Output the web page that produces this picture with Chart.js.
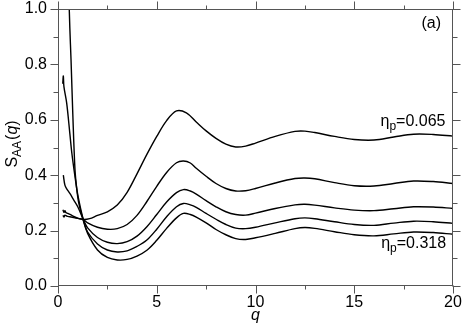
<!DOCTYPE html>
<html><head><meta charset="utf-8">
<script src="https://cdn.jsdelivr.net/npm/chart.js@4"></script>
<style>html,body{margin:0;padding:0;background:#fff}#wrap{width:463px;height:327px}</style>
</head><body><div id="wrap"><canvas id="c" width="463" height="327"></canvas></div>
<script>
// ---- data ----
const seriesLabels = ["η_p=0.065", "η_p=0.119", "η_p=0.191", "η_p=0.255", "η_p=0.318"];
const xTicks = [0, 5, 10, 15, 20];
const yTicks = [0.0, 0.2, 0.4, 0.6, 0.8, 1.0];

// shared q grid for q >= 1.5 (series B..E)
const qMain = [1.5,2,2.5,3,3.5,4,4.5,5,5.5,6,6.35,6.7,7,7.5,8,8.5,9,9.5,10,11,12,12.5,13,14,15,16,17,18,19,20];

// eta_p = 0.065 (top curve)
const qA = [0.25,0.3,0.35,0.4,0.5,0.7,1.0,1.3,1.6,2.0,2.5,3.0,3.5,4.0,4.5,5.0,5.5,6.0,6.5,7.0,7.5,8.0,8.5,9.0,9.5,10,11,12,12.5,13,14,15,16,17,18,19,20];
const sA = [0.275,0.266,0.272,0.265,0.262,0.255,0.245,0.24,0.243,0.255,0.268,0.292,0.338,0.405,0.475,0.54,0.597,0.632,0.625,0.592,0.56,0.533,0.512,0.502,0.505,0.516,0.54,0.558,0.559,0.554,0.54,0.529,0.527,0.538,0.548,0.547,0.541];

// second curve
const qB_low = [0.25,0.3,0.35,0.45,0.6,0.8,1.0,1.28];
const sB_low = [0.255,0.249,0.256,0.252,0.25,0.247,0.244,0.24];
const sB = [0.228,0.212,0.205,0.207,0.222,0.255,0.305,0.36,0.41,0.445,0.451,0.444,0.425,0.396,0.37,0.352,0.343,0.344,0.352,0.372,0.388,0.39,0.387,0.373,0.362,0.361,0.37,0.379,0.377,0.37];

// third curve
const qC_low = [0.27,0.35,0.45,0.6,0.8,1.0,1.28];
const sC_low = [0.40,0.364,0.35,0.334,0.31,0.286,0.24];
const sC = [0.21,0.175,0.158,0.153,0.16,0.18,0.214,0.258,0.303,0.337,0.348,0.343,0.332,0.308,0.286,0.268,0.258,0.256,0.263,0.28,0.293,0.295,0.292,0.282,0.274,0.272,0.279,0.286,0.285,0.28];

// fourth curve
const qD_low = [0.24,0.27,0.3,0.44,0.6,0.7,0.85,1.0,1.28];
const sD_low = [0.73,0.758,0.72,0.66,0.55,0.48,0.40,0.33,0.24];
const sD = [0.195,0.152,0.13,0.123,0.127,0.143,0.166,0.205,0.25,0.286,0.298,0.293,0.284,0.262,0.241,0.222,0.209,0.207,0.212,0.228,0.243,0.246,0.243,0.232,0.222,0.219,0.227,0.234,0.232,0.226];

// eta_p = 0.318 (bottom curve)
const qE_low = [0.55,0.6,0.66,0.75,0.86,0.95,1.05,1.28];
const sE_low = [1.05,0.93,0.816,0.62,0.42,0.35,0.30,0.237];
const sE = [0.19,0.13,0.103,0.094,0.096,0.108,0.129,0.165,0.208,0.246,0.262,0.258,0.249,0.228,0.204,0.185,0.171,0.168,0.174,0.19,0.207,0.211,0.208,0.196,0.185,0.181,0.188,0.195,0.193,0.187];

// ---- build ----
const pts = (qs, ss) => qs.map((q, i) => ({x: q, y: ss[i]}));
const seriesData = [
  pts(qA, sA),
  pts(qB_low.concat(qMain), sB_low.concat(sB)),
  pts(qC_low.concat(qMain), sC_low.concat(sC)),
  pts(qD_low.concat(qMain), sD_low.concat(sD)),
  pts(qE_low.concat(qMain), sE_low.concat(sE))
];

const FONT = "'Liberation Sans', Arial, Helvetica, sans-serif";
const AXC = '#555';
const FS = 16, FSUB = 12;

const decor = {
  id: 'decor',
  afterDraw(chart) {
    const ctx = chart.ctx, a = chart.chartArea;
    const xs = chart.scales.x, ys = chart.scales.y;
    const L = Math.round(a.left) + 0.5, R = Math.round(a.right) - 0.5;
    const T = Math.round(a.top) + 0.5, B = Math.round(a.bottom) - 0.5;
    ctx.save();
    ctx.strokeStyle = AXC; ctx.lineWidth = 1;
    ctx.strokeRect(L, T, R - L, B - T);
    ctx.beginPath();
    for (let v = 0; v <= 20.001; v += 2.5) {
      const major = Math.abs(v / 5 - Math.round(v / 5)) < 1e-6;
      const len = major ? 8 : 4;
      const px = Math.round(xs.getPixelForValue(v)) + 0.5;
      ctx.moveTo(px, B); ctx.lineTo(px, B + len);
      ctx.moveTo(px, T); ctx.lineTo(px, T - len);
    }
    for (let k = 0; k <= 10; k++) {
      const v = k / 10;
      const len = (k % 2 === 0) ? 8 : 5;
      const py = Math.round(ys.getPixelForValue(v)) + 0.5;
      ctx.moveTo(L, py); ctx.lineTo(L - len, py);
      ctx.moveTo(R, py); ctx.lineTo(R + len, py);
    }
    ctx.stroke();

    const f1 = FS + 'px ' + FONT, f2 = FSUB + 'px ' + FONT, f3 = 'italic ' + FS + 'px ' + FONT;
    ctx.fillStyle = '#000';
    // x title
    ctx.font = f3;
    ctx.textAlign = 'center'; ctx.textBaseline = 'alphabetic';
    ctx.fillText('q', xs.getPixelForValue(10), 320);

    // y title S_AA(q), rotated
    ctx.save();
    ctx.translate(17, 144);
    ctx.rotate(-Math.PI / 2);
    ctx.textAlign = 'left';
    ctx.font = f1; const wS = ctx.measureText('S').width;
    ctx.font = f2; const wAA = ctx.measureText('AA').width;
    ctx.font = f1; const wP = ctx.measureText('(').width;
    ctx.font = f3; const wq = ctx.measureText('q').width;
    ctx.font = f1; const wP2 = ctx.measureText(')').width;
    const tot = wS + wAA + 1 + wP + wq + wP2;
    let x0 = -tot / 2;
    ctx.font = f1; ctx.fillText('S', x0, 0); x0 += wS;
    ctx.font = f2; ctx.fillText('AA', x0, 4); x0 += wAA + 1;
    ctx.font = f1; ctx.fillText('(', x0, 0); x0 += wP;
    ctx.font = f3; ctx.fillText('q', x0, 0); x0 += wq;
    ctx.font = f1; ctx.fillText(')', x0, 0);
    ctx.restore();

    // (a)
    ctx.font = f1;
    ctx.textAlign = 'center'; ctx.textBaseline = 'alphabetic';
    ctx.fillText('(a)', xs.getPixelForValue(18.9), ys.getPixelForValue(0.93));

    // eta labels
    const etaLabel = (val, xr, yb) => {
      ctx.textAlign = 'left'; ctx.textBaseline = 'alphabetic';
      ctx.font = f1; const we = ctx.measureText('η').width;
      ctx.font = f2; const wp = ctx.measureText('p').width;
      ctx.font = f1; const wv = ctx.measureText('=' + val).width;
      let x = xr - (we + wp + wv);
      ctx.font = f1; ctx.fillText('η', x, yb); x += we;
      ctx.font = f2; ctx.fillText('p', x, yb + 4); x += wp;
      ctx.font = f1; ctx.fillText('=' + val, x, yb);
    };
    etaLabel('0.065', xs.getPixelForValue(19.62), ys.getPixelForValue(0.578));
    etaLabel('0.318', xs.getPixelForValue(19.65), ys.getPixelForValue(0.136));
    ctx.restore();
  }
};

new Chart(document.getElementById('c'), {
  type: 'scatter',
  data: {
    datasets: seriesData.map((d, i) => ({
      label: seriesLabels[i],
      data: d,
      showLine: true,
      borderColor: '#000',
      backgroundColor: '#000',
      borderWidth: 1.4,
      pointRadius: 0,
      fill: false,
      tension: 0.35
    }))
  },
  options: {
    responsive: false,
    devicePixelRatio: 1,
    animation: false,
    layout: { padding: { left: 0, top: 9, right: 10, bottom: 0 } },
    plugins: { legend: { display: false }, tooltip: { enabled: false } },
    scales: {
      x: {
        type: 'linear', min: 0, max: 20,
        afterBuildTicks: s => { s.ticks = xTicks.map(v => ({ value: v })); },
        ticks: { color: '#000', font: { family: FONT, size: FS }, padding: 7, maxRotation: 0, autoSkip: false,
                 callback: v => String(v) },
        grid: { display: false, drawTicks: false },
        border: { display: false },
        afterFit: s => { s.height = 41; s.paddingLeft = 0; s.paddingRight = 0; }
      },
      y: {
        type: 'linear', min: 0, max: 1,
        afterBuildTicks: s => { s.ticks = yTicks.map(v => ({ value: v })); },
        ticks: { color: '#000', font: { family: FONT, size: FS }, padding: 11, autoSkip: false,
                 callback: v => Number(v).toFixed(1) },
        grid: { display: false, drawTicks: false },
        border: { display: false },
        afterFit: s => { s.width = 58; s.paddingTop = 0; s.paddingBottom = 0; }
      }
    }
  },
  plugins: [decor]
});
</script></body></html>
